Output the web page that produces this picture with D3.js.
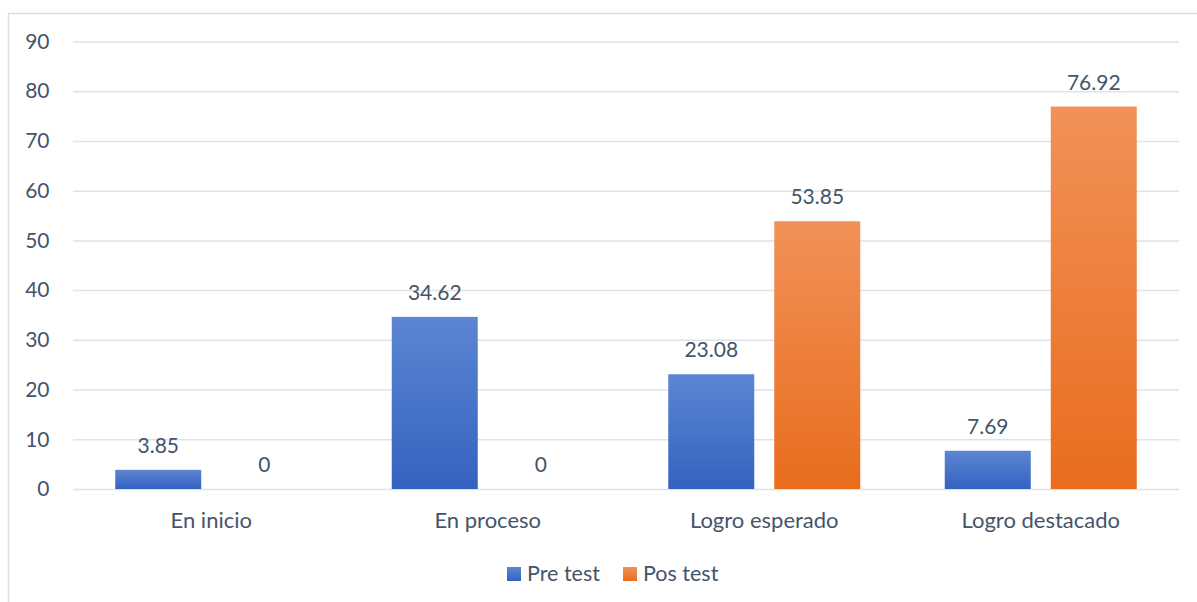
<!DOCTYPE html>
<html><head><meta charset="utf-8">
<script src="https://cdn.jsdelivr.net/npm/d3@7"></script>
<style>body{margin:0;background:#fff;}svg{display:block;}text{font-family:Lato,"Open Sans",sans-serif;fill:#44546a;}</style>
</head><body>
<svg id="c" width="1197" height="602"></svg>
<script>
const categories = ["En inicio","En proceso","Logro esperado","Logro destacado"];
const seriesNames = ["Pre test","Pos test"];
const preTest = [3.85, 34.62, 23.08, 7.69];
const posTest = [0, 0, 53.85, 76.92];
const yTicks = [0,10,20,30,40,50,60,70,80,90];

(function(){
const svg = d3.select("#c");
const defs = svg.append("defs");
const grads = [["#5c86d2","#3462c0"],["#f29158","#e86d1d"]];
grads.forEach((g,i)=>{
  const lg = defs.append("linearGradient").attr("id","g"+i).attr("x1",0).attr("y1",0).attr("x2",0).attr("y2",1);
  lg.append("stop").attr("offset","0%").attr("stop-color",g[0]);
  lg.append("stop").attr("offset","100%").attr("stop-color",g[1]);
});

svg.append("rect").attr("x",8.5).attr("y",13.5).attr("width",1200).attr("height",600)
  .attr("fill","none").attr("stroke","#d9dde3").attr("stroke-width",1.5);

const pl=73, pr=1179, pt=41.5, pb=489;
const x = d3.scaleBand().domain(categories).range([pl,pr]);
const y = d3.scaleLinear().domain([0,90]).range([pb,pt]);
const bw = x.bandwidth();
const inner = d3.scaleBand().domain(seriesNames).range([(bw-192)/2,(bw+192)/2]).paddingInner(20/106).paddingOuter(0);

const yAxis = d3.axisLeft(y).tickValues(yTicks).tickSize(-(pr-pl)).tickPadding(23.5).tickFormat(d3.format("d"));
const ga = svg.append("g").attr("transform",`translate(${pl},0)`).call(yAxis);
ga.select(".domain").remove();
ga.selectAll(".tick line").attr("stroke","#dee2e9").attr("stroke-width",1.5);
ga.selectAll(".tick text").style("font-size","21px").attr("fill","#44546a").style("font-family","Lato");

[preTest,posTest].forEach((vals,si)=>{
  const g = svg.append("g");
  g.selectAll("rect").data(vals).join("rect")
    .attr("x",(d,i)=>x(categories[i])+inner(seriesNames[si]))
    .attr("width",inner.bandwidth())
    .attr("y",d=>y(d))
    .attr("height",d=>y(0)-y(d))
    .attr("fill",`url(#g${si})`);
  g.selectAll("text").data(vals).join("text")
    .attr("x",(d,i)=>x(categories[i])+inner(seriesNames[si])+inner.bandwidth()/2)
    .attr("y",d=>y(d)-17)
    .attr("text-anchor","middle")
    .style("font-size","21px")
    .text(d=>d);
});

const xa = svg.append("g").attr("transform",`translate(0,${pb})`).call(d3.axisBottom(x).tickSize(0).tickPadding(23));
xa.select(".domain").remove();
xa.selectAll(".tick text").style("font-size","22px").attr("fill","#44546a").style("font-family","Lato");

const lx=[507,623];
seriesNames.forEach((s,i)=>{
  svg.append("rect").attr("x",lx[i]).attr("y",567).attr("width",14).attr("height",14).attr("fill",`url(#g${i})`);
  svg.append("text").attr("x",lx[i]+20).attr("y",581).style("font-size","21.5px").text(s);
});
})();
</script>
</body></html>
